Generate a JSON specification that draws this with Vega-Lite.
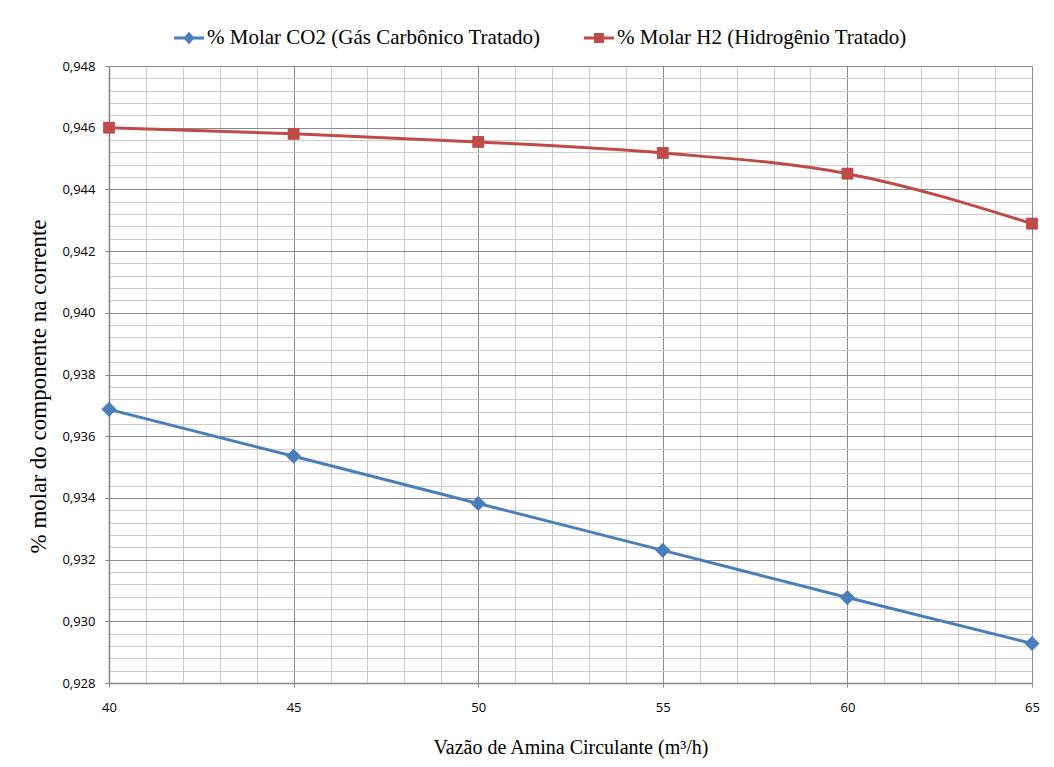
{
  "$schema": "https://vega.github.io/schema/vega-lite/v6.json",
  "width": 923,
  "height": 617,
  "autosize": {"type": "none"},
  "padding": {"left": 109, "top": 66, "right": 22, "bottom": 84},
  "background": "white",
  "config": {
    "view": {"stroke": null},
    "legend": {"labelFont": "Liberation Serif", "labelFontSize": 21, "labelColor": "#000000"}
  },
  "data": {
    "values": [
      {"vazao": 40, "serie": "% Molar CO2 (Gás Carbônico Tratado)", "valor": 0.93687},
      {"vazao": 45, "serie": "% Molar CO2 (Gás Carbônico Tratado)", "valor": 0.93535},
      {"vazao": 50, "serie": "% Molar CO2 (Gás Carbônico Tratado)", "valor": 0.93382},
      {"vazao": 55, "serie": "% Molar CO2 (Gás Carbônico Tratado)", "valor": 0.9323},
      {"vazao": 60, "serie": "% Molar CO2 (Gás Carbônico Tratado)", "valor": 0.93077},
      {"vazao": 65, "serie": "% Molar CO2 (Gás Carbônico Tratado)", "valor": 0.92928},
      {"vazao": 40, "serie": "% Molar H2 (Hidrogênio Tratado)", "valor": 0.946},
      {"vazao": 45, "serie": "% Molar H2 (Hidrogênio Tratado)", "valor": 0.9458},
      {"vazao": 50, "serie": "% Molar H2 (Hidrogênio Tratado)", "valor": 0.94554},
      {"vazao": 55, "serie": "% Molar H2 (Hidrogênio Tratado)", "valor": 0.94518},
      {"vazao": 60, "serie": "% Molar H2 (Hidrogênio Tratado)", "valor": 0.94451},
      {"vazao": 65, "serie": "% Molar H2 (Hidrogênio Tratado)", "valor": 0.94289}
    ]
  },
  "encoding": {
    "x": {
      "field": "vazao",
      "type": "quantitative",
      "scale": {"domain": [40, 65], "nice": false, "zero": false},
      "axis": {
        "title": "Vazão de Amina Circulante (m³/h)",
        "values": [40,41,42,43,44,45,46,47,48,49,50,51,52,53,54,55,56,57,58,59,60,61,62,63,64,65],
        "labelExpr": "datum.value % 5 === 0 ? datum.label : ''",
        "labelOverlap": false,
        "labelFlush": false,
        "labelAngle": 0,
        "gridColor": {"condition": {"test": "datum.value % 5 === 0", "value": "#8c8c8c"}, "value": "#cccccc"},
        "gridWidth": 1,
        "tickOpacity": {"condition": {"test": "datum.value % 5 === 0", "value": 1}, "value": 0},
        "tickSize": 4,
        "tickColor": "#868686",
        "domainColor": "#868686",
        "domainWidth": 1.5,
        "labelFont": "Open Sans",
        "labelFontSize": 13,
        "labelColor": "#000000",
        "labelPadding": 14,
        "titleFont": "Liberation Serif",
        "titleFontSize": 20,
        "titleFontWeight": "normal",
        "titleColor": "#000000",
        "titlePadding": 23
      }
    },
    "y": {
      "field": "valor",
      "type": "quantitative",
      "scale": {"domain": [0.928, 0.948], "nice": false, "zero": false},
      "axis": {
        "title": "% molar do componente na corrente",
        "values": [0.928,0.9284,0.9288,0.9292,0.9296,0.930,0.9304,0.9308,0.9312,0.9316,0.932,0.9324,0.9328,0.9332,0.9336,0.934,0.9344,0.9348,0.9352,0.9356,0.936,0.9364,0.9368,0.9372,0.9376,0.938,0.9384,0.9388,0.9392,0.9396,0.940,0.9404,0.9408,0.9412,0.9416,0.942,0.9424,0.9428,0.9432,0.9436,0.944,0.9444,0.9448,0.9452,0.9456,0.946,0.9464,0.9468,0.9472,0.9476,0.948],
        "labelExpr": "abs(datum.value*500 - round(datum.value*500)) < 0.001 ? replace(format(datum.value, '.3f'), '.', ',') : ''",
        "labelOverlap": false,
        "labelFlush": false,
        "gridColor": {"condition": {"test": "abs(datum.value*500 - round(datum.value*500)) < 0.001", "value": "#8c8c8c"}, "value": "#cccccc"},
        "gridWidth": 1,
        "tickOpacity": {"condition": {"test": "abs(datum.value*500 - round(datum.value*500)) < 0.001", "value": 1}, "value": 0},
        "tickSize": 4,
        "tickColor": "#868686",
        "domainColor": "#868686",
        "domainWidth": 1.5,
        "labelFont": "Open Sans",
        "labelFontSize": 13,
        "labelColor": "#000000",
        "labelPadding": 10,
        "titleFont": "Liberation Serif",
        "titleFontSize": 23,
        "titleFontWeight": "normal",
        "titleColor": "#000000",
        "titlePadding": 11,
        "titleY": 320
      }
    }
  },
  "layer": [
    {
      "mark": {"type": "line", "interpolate": "monotone", "strokeWidth": 3},
      "encoding": {
        "color": {
          "field": "serie",
          "type": "nominal",
          "scale": {"domain": ["% Molar CO2 (Gás Carbônico Tratado)", "% Molar H2 (Hidrogênio Tratado)"], "range": ["#4A7EBB", "#BE4B48"]},
          "legend": {
            "title": null,
            "orient": "none",
            "direction": "horizontal",
            "legendX": 65,
            "legendY": -43,
            "padding": 0,
            "symbolSize": 900,
            "symbolStrokeWidth": 0,
            "symbolOpacity": 1,
            "labelFont": "Liberation Serif",
            "labelFontSize": 21,
            "labelColor": "#000000",
            "labelOffset": 3,
            "labelLimit": 0,
            "columnPadding": 43,
            "encode": {
              "labels": {
                "update": {
                  "font": {"value": "Liberation Serif"},
                  "fontSize": {"value": 21}
                }
              },
              "symbols": {
                "update": {
                  "shape": {"signal": "indexof(datum.value, 'CO2') >= 0 ? 'M-1,-0.1H1V0.1H-1Z M0,-0.42L0.38,0L0,0.42L-0.38,0Z' : 'M-1,-0.1H1V0.1H-1Z M-0.33,-0.33H0.33V0.33H-0.33Z'"},
                  "fill": {"scale": "color", "field": "value"},
                  "stroke": {"value": "transparent"},
                  "strokeWidth": {"value": 0},
                  "opacity": {"value": 1}
                }
              }
            }
          }
        }
      }
    },
    {
      "transform": [{"filter": "indexof(datum.serie, 'CO2') >= 0"}],
      "mark": {"type": "point", "shape": "diamond", "filled": true, "opacity": 1, "size": 230, "color": "#4A7EBB"}
    },
    {
      "transform": [{"filter": "indexof(datum.serie, 'H2') >= 0"}],
      "mark": {"type": "point", "shape": "square", "filled": true, "opacity": 1, "size": 140, "color": "#BE4B48"}
    }
  ]
}
